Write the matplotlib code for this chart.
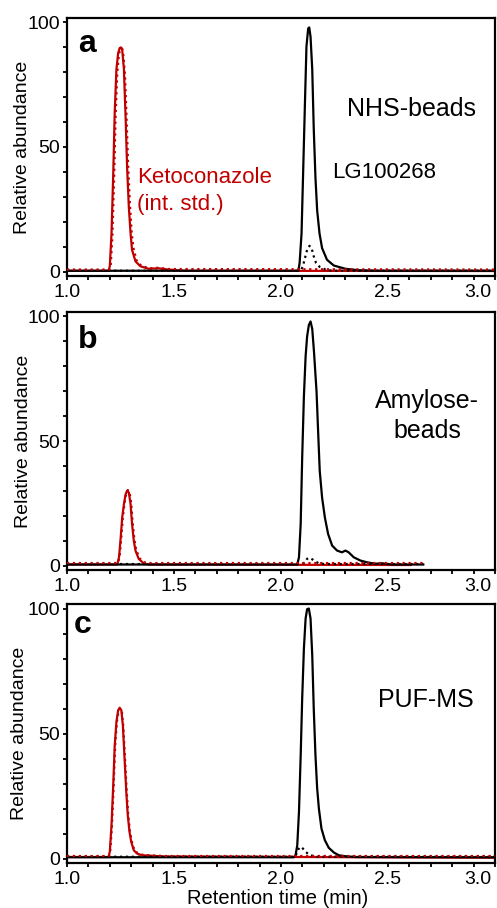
import matplotlib
matplotlib.use('Agg')
import matplotlib.pyplot as plt
import matplotlib.transforms as mtransforms
from matplotlib.ticker import MultipleLocator

plt.rcParams['font.family'] = ['Liberation Sans', 'DejaVu Sans']

RED = '#c00000'

# ---- panel a : NHS-beads ----
a_lg_t = [1.0, 2.081, 2.087, 2.096, 2.104, 2.112, 2.119, 2.127, 2.132, 2.138, 2.146, 2.153,
          2.161, 2.169, 2.180, 2.192, 2.215, 2.247, 2.301, 2.363, 2.45, 3.0]
a_lg_y = [0.3, 0.3, 3.4, 15.3, 41.6, 68, 90.4, 97.6, 98, 94.3, 81.2, 57.4,
          37.7, 24.5, 15.3, 9.4, 4.7, 2.4, 1.1, 0.5, 0.3, 0.3]
a_lgc_t = [1.0, 2.092, 2.102, 2.112, 2.122, 2.133, 2.143, 2.153, 2.164, 2.180, 2.208, 2.239, 3.0]
a_lgc_y = [0.3, 0.3, 2.1, 5.4, 8.7, 10.3, 9.4, 6.1, 3.4, 1.9, 0.8, 0.3, 0.3]
a_k_t = [1.0, 1.194, 1.200, 1.208, 1.216, 1.223, 1.231, 1.239, 1.246, 1.252, 1.258, 1.266,
         1.274, 1.281, 1.289, 1.297, 1.304, 1.320, 1.343, 1.381, 1.427, 1.472, 1.55, 3.0]
a_k_y = [0.3, 0.3, 2.1, 15.3, 39, 64, 81.2, 87.7, 89.7, 90, 89, 81.2,
         61.4, 41.6, 25.8, 15.3, 8.7, 4.1, 2.1, 1.1, 1.3, 0.8, 0.3, 0.2]
a_kc_t = [1.0, 1.198, 1.204, 1.212, 1.220, 1.227, 1.235, 1.243, 1.251, 1.258, 1.263, 1.271,
          1.279, 1.286, 1.294, 1.302, 1.310, 1.325, 1.348, 1.385, 1.427, 1.475, 3.0]
a_kc_y = [0.8, 0.8, 2.0, 14, 37, 62, 80, 87.5, 89.5, 89.5, 87, 79,
          60, 42, 27, 16, 9.5, 4.5, 2.2, 1.3, 1.5, 1.0, 0.8]

# ---- panel b : Amylose-beads ----
b_lg_t = [1.0, 2.076, 2.084, 2.092, 2.099, 2.107, 2.115, 2.122, 2.130, 2.138, 2.146, 2.154,
          2.166, 2.174, 2.181, 2.192, 2.205, 2.220, 2.239, 2.262, 2.285, 2.301, 2.316,
          2.340, 2.371, 2.401, 2.440, 2.471, 2.518, 2.665]
b_lg_y = [0.4, 0.4, 3.3, 16.7, 43.3, 68, 84, 92, 96.5, 98, 95, 86,
          70, 52.7, 38, 27.3, 19.3, 12.7, 8, 6, 5.3, 6, 5.3,
          3.3, 2, 1.3, 0.7, 0.9, 0.4, 0.4]
b_lgc_t = [1.0, 2.099, 2.112, 2.122, 2.133, 2.146, 2.158, 2.177, 2.200, 2.665]
b_lgc_y = [0.6, 0.6, 1.3, 2.7, 3.1, 2.5, 1.7, 0.9, 0.6, 0.6]
b_k_t = [1.0, 1.235, 1.243, 1.251, 1.258, 1.266, 1.274, 1.281, 1.289, 1.297, 1.304,
         1.312, 1.320, 1.335, 1.358, 1.381, 2.605]
b_k_y = [0.4, 0.4, 3.3, 11.3, 19.3, 24.7, 28.7, 30, 29.3, 24.7, 16.7,
         10, 6, 2.7, 0.9, 0.4, 0.2]
b_kc_t = [1.0, 1.238, 1.246, 1.254, 1.261, 1.269, 1.277, 1.284, 1.292, 1.300, 1.307,
          1.315, 1.323, 1.338, 1.361, 1.385, 2.665]
b_kc_y = [1.0, 1.0, 3.5, 11.5, 19.5, 25, 29, 30.3, 29.5, 25, 17,
          10.5, 6.5, 3, 1.3, 1.0, 1.0]

# ---- panel c : PUF-MS ----
c_lg_t = [1.0, 2.060, 2.068, 2.076, 2.084, 2.092, 2.099, 2.107, 2.115, 2.122, 2.130, 2.138,
          2.146, 2.153, 2.161, 2.169, 2.177, 2.189, 2.205, 2.223, 2.247, 2.270, 2.301,
          2.347, 3.0]
c_lg_y = [0.5, 0.5, 1.3, 5.3, 18.7, 41.3, 64, 84, 96, 99.7, 100, 96,
          81.3, 60, 41.3, 28, 20, 12, 7.3, 4.3, 2.4, 1.3, 0.9,
          0.6, 0.5]
c_lgc_t = [1.0, 2.065, 2.073, 2.081, 2.092, 2.102, 2.115, 2.130, 2.153, 2.169, 3.0]
c_lgc_y = [0.7, 0.7, 2.0, 3.7, 4.7, 4.0, 2.7, 1.6, 0.9, 0.7, 0.7]
c_k_t = [1.0, 1.194, 1.200, 1.208, 1.216, 1.223, 1.231, 1.239, 1.246, 1.254, 1.261, 1.269,
         1.277, 1.284, 1.292, 1.300, 1.312, 1.327, 1.350, 1.396, 1.457, 3.0]
c_k_y = [0.6, 0.6, 2.7, 13.3, 29.3, 45.3, 54.7, 59.3, 60.3, 59.3, 53.3, 40,
         26.7, 17.3, 10.7, 6.7, 3.3, 2.0, 1.3, 1.1, 0.8, 0.3]
c_kc_t = [1.0, 1.196, 1.202, 1.210, 1.218, 1.225, 1.233, 1.241, 1.248, 1.256, 1.263, 1.271,
          1.279, 1.286, 1.294, 1.302, 1.314, 1.329, 1.352, 1.398, 1.46, 3.0]
c_kc_y = [1.0, 1.0, 2.8, 13, 29, 45, 54.5, 59, 60, 59, 53, 40,
          27, 17.5, 11, 7, 3.6, 2.2, 1.5, 1.2, 1.0, 1.0]

panels = [
    ('a', (a_lg_t, a_lg_y), (a_lgc_t, a_lgc_y), (a_k_t, a_k_y), (a_kc_t, a_kc_y)),
    ('b', (b_lg_t, b_lg_y), (b_lgc_t, b_lgc_y), (b_k_t, b_k_y), (b_kc_t, b_kc_y)),
    ('c', (c_lg_t, c_lg_y), (c_lgc_t, c_lgc_y), (c_k_t, c_k_y), (c_kc_t, c_kc_y)),
]

W, H = 497, 908
boxes = [(18, 276), (312, 570), (604, 863)]     # top, bottom in pixels
letter_pos = [(0.026, 0.868), (0.026, 0.860), (0.016, 0.888)]
ylab_x = [23, 24, 20]

fig = plt.figure(figsize=(W / 100, H / 100), dpi=100)

for i, (letter, lg, lgc, k, kc) in enumerate(panels):
    top, bot = boxes[i]
    ax = fig.add_axes([67 / W, 1 - bot / H, 428 / W, (bot - top) / H])

    ax.plot(k[0], k[1], color=RED, lw=1.6, zorder=2)
    ax.plot(lg[0], lg[1], color='black', lw=1.6, zorder=3)
    ax.plot(lgc[0], lgc[1], color='black', lw=1.6, ls=':', zorder=4)
    ax.plot(kc[0], kc[1], color=RED, lw=1.6, ls=':', zorder=5)

    ax.set_xlim(1.0, 3.0)
    ax.set_ylim(-1.8, 101.8)
    ax.set_xticks([1.0, 1.5, 2.0, 2.5, 3.0])
    ax.set_xticklabels(['1.0', '1.5', '2.0', '2.5', '3.0'])
    ax.xaxis.set_minor_locator(MultipleLocator(0.1))
    ax.set_yticks([0, 50, 100])
    ax.yaxis.set_minor_locator(MultipleLocator(10))
    ax.tick_params(which='both', direction='out', length=3, width=1.3, labelsize=14)
    ax.tick_params(axis='y', pad=2)
    ax.tick_params(axis='x', pad=3)
    for s in ax.spines.values():
        s.set_linewidth(1.6)

    # the last label sits a little left of its tick in the original
    lab = ax.get_xticklabels()[-1]
    lab.set_transform(lab.get_transform() +
                      mtransforms.ScaledTranslation(-0.17, 0, fig.dpi_scale_trans))

    ax.text(letter_pos[i][0], letter_pos[i][1], letter, transform=ax.transAxes,
            fontsize=23, fontweight='bold', ha='left', va='baseline')

    fig.text(ylab_x[i] / W, 1 - (top + bot) / 2 / H, 'Relative abundance',
             rotation=90, ha='center', va='center', fontsize=14)

    if letter == 'a':
        ax.text(0.654, 0.620, 'NHS-beads', transform=ax.transAxes, fontsize=18,
                ha='left', va='baseline')
        ax.text(0.619, 0.380, 'LG100268', transform=ax.transAxes, fontsize=16,
                ha='left', va='baseline')
        ax.text(0.164, 0.360, 'Ketoconazole', transform=ax.transAxes, fontsize=16,
                ha='left', va='baseline', color=RED)
        ax.text(0.164, 0.256, '(int. std.)', transform=ax.transAxes, fontsize=16,
                ha='left', va='baseline', color=RED)
    elif letter == 'b':
        ax.text(0.841, 0.628, 'Amylose-', transform=ax.transAxes, fontsize=18,
                ha='center', va='baseline')
        ax.text(0.841, 0.512, 'beads', transform=ax.transAxes, fontsize=18,
                ha='center', va='baseline')
    else:
        ax.text(0.727, 0.602, 'PUF-MS', transform=ax.transAxes, fontsize=18,
                ha='left', va='baseline')

fig.text(278 / W, 1 - 903.5 / H, 'Retention time (min)', ha='center', va='baseline',
         fontsize=14.5)

fig.savefig('out.png', dpi=100)
